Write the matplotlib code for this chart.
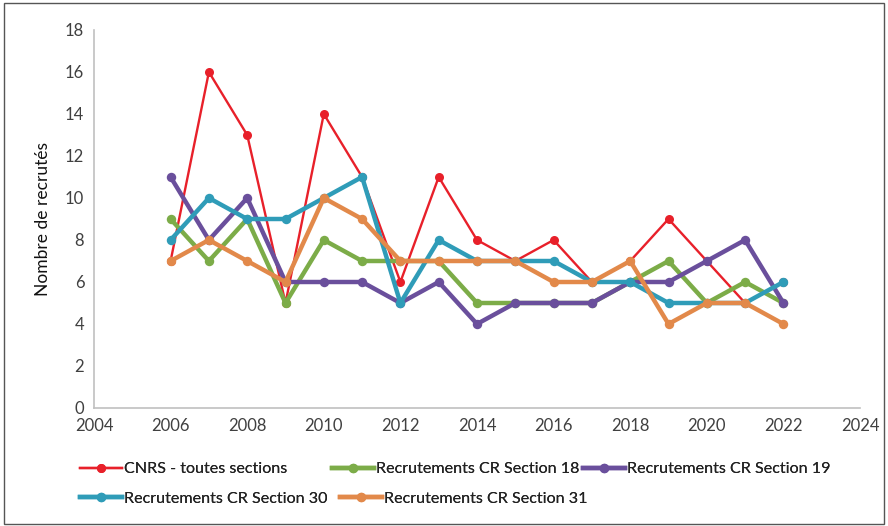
import matplotlib
matplotlib.use("Agg")
import matplotlib.pyplot as plt
from matplotlib.patches import Rectangle

years = list(range(2006, 2023))
cnrs = [7, 16, 13, 5, 14, 11, 6, 11, 8, 7, 8, 6, 7, 9, 7, 5, 6]
sec18 = [9, 7, 9, 5, 8, 7, 7, 7, 5, 5, 5, 5, 6, 7, 5, 6, 5]
sec19 = [11, 8, 10, 6, 6, 6, 5, 6, 4, 5, 5, 5, 6, 6, 7, 8, 5]
sec30 = [8, 10, 9, 9, 10, 11, 5, 8, 7, 7, 7, 6, 6, 5, 5, 5, 6]
sec31 = [7, 8, 7, 6, 10, 9, 7, 7, 7, 7, 6, 6, 7, 4, 5, 5, 4]

labels = ["CNRS - toutes sections", "Recrutements CR Section 18",
          "Recrutements CR Section 19", "Recrutements CR Section 30",
          "Recrutements CR Section 31"]
colors = ["#e8202a", "#7cac48", "#6a4f9c", "#2f9cb8", "#e2894a"]
series = [cnrs, sec18, sec19, sec30, sec31]
xticks = list(range(2004, 2025, 2))
yticks = list(range(0, 19, 2))

plt.rcParams['font.family'] = ['Lato', 'DejaVu Sans']

fig = plt.figure(figsize=(8.88, 5.26), dpi=100)
ax = fig.add_axes([94/888, 1-408/526, (860-94)/888, (408-30)/526])

handles = []
for i, (vals, lab, col) in enumerate(zip(series, labels, colors)):
    if i == 0:
        lw, ms = 1.7, 6.5
    else:
        lw, ms = 3.2, 6.8
    h, = ax.plot(years, vals, color=col, lw=lw, marker="o", ms=ms,
                 markeredgewidth=0, label=lab, zorder=2 + i,
                 solid_joinstyle="round")
    handles.append(h)
ax.set_xlim(2004, 2024)
ax.set_ylim(0, 18)
ax.set_xticks(xticks)
ax.set_yticks(yticks)
ax.tick_params(length=0, labelsize=12, colors="#404040", pad=7)
for s in ["top", "right"]:
    ax.spines[s].set_visible(False)
for s in ["left", "bottom"]:
    ax.spines[s].set_color("#c0c0c0")
    ax.spines[s].set_linewidth(1.2)
ax.set_ylabel("Nombre de recrutés", fontsize=12.5, color="#111111", labelpad=10)

positions = [(80, 469), (332, 469), (583, 469), (80, 499), (340, 499)]
for h, lab, (px, py) in zip(handles, labels, positions):
    leg = fig.legend([h], [lab], loc="center left",
                     bbox_to_anchor=(px/888, 1-py/526), frameon=False,
                     prop={"family": "Lato", "size": 11.6},
                     handlelength=2.6, handletextpad=0.1, borderpad=0,
                     borderaxespad=0, labelcolor="#222222")
    fig.add_artist(leg)

fig.add_artist(Rectangle((0.004, 0.004), 0.992, 0.99, transform=fig.transFigure,
                         fill=False, edgecolor="#555555", lw=1.0))
fig.savefig("out.png", dpi=100)
